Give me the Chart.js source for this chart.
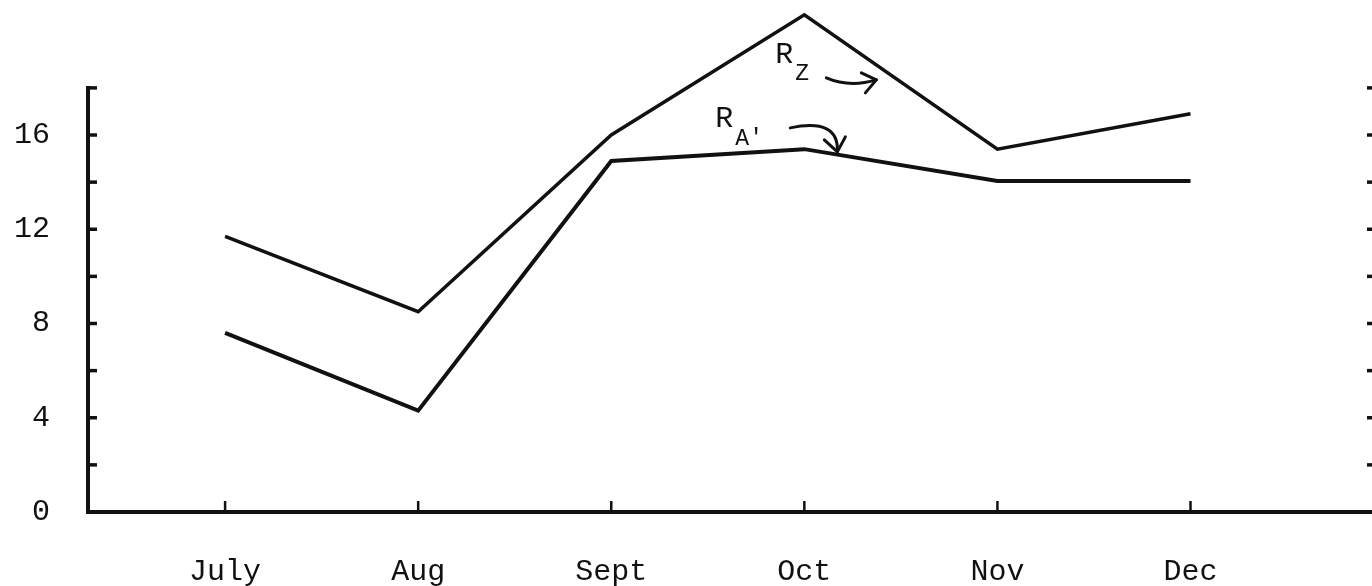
<!DOCTYPE html>
<html>
<head>
<meta charset="utf-8">
<script src="https://cdn.jsdelivr.net/npm/chart.js@4.4.1/dist/chart.umd.min.js"></script>
<style>
  html, body { margin: 0; padding: 0; background: #fff; }
  #wrap { width: 1372px; height: 586px; }
</style>
</head>
<body>
<div id="wrap"><canvas id="chart"></canvas></div>
<script>
var months = ['July', 'Aug', 'Sept', 'Oct', 'Nov', 'Dec'];
var rZ = [11.7, 8.5, 16.0, 21.1, 15.4, 16.9];
var rA = [7.6, 4.3, 14.9, 15.4, 14.05, 14.05];
var yTicks = [0, 2, 4, 6, 8, 10, 12, 14, 16, 18];
var yLabelled = [0, 4, 8, 12, 16];

var ink = '#111';
var mono = '"Liberation Mono", "DejaVu Sans Mono", monospace';

function toPoints(values) {
    return values.map(function (v, i) { return { x: i, y: v }; });
}

// axes, tick marks and the hand labels
var axesPlugin = {
    id: 'axesPlugin',
    afterDatasetsDraw: function (chart) {
        var ctx = chart.ctx;
        var x = chart.scales.x;
        var y = chart.scales.y;
        var area = chart.chartArea;
        var y0 = y.getPixelForValue(0);
        var yTop = y.getPixelForValue(yTicks[yTicks.length - 1]);

        ctx.save();
        ctx.strokeStyle = ink;
        ctx.lineCap = 'butt';

        // y axis + x axis
        ctx.lineWidth = 4;
        ctx.beginPath();
        ctx.moveTo(area.left, yTop - 2);
        ctx.lineTo(area.left, y0);
        ctx.lineTo(area.right, y0);
        ctx.stroke();

        // inward ticks on y
        ctx.lineWidth = 3.5;
        yTicks.forEach(function (v) {
            if (v === 0) return;
            var py = y.getPixelForValue(v);
            ctx.beginPath();
            ctx.moveTo(area.left, py);
            ctx.lineTo(area.left + 9, py);
            ctx.stroke();
            // stubs of the right-hand axis
            ctx.beginPath();
            ctx.moveTo(area.right - 5, py);
            ctx.lineTo(area.right, py);
            ctx.stroke();
        });

        // upward ticks on x
        ctx.lineWidth = 2.5;
        months.forEach(function (m, i) {
            var px = x.getPixelForValue(i);
            ctx.beginPath();
            ctx.moveTo(px, y0);
            ctx.lineTo(px, y0 - 11);
            ctx.stroke();
        });

        // hand labels near Oct
        var ox = x.getPixelForValue(3);
        var oy = yTop;
        ctx.fillStyle = ink;
        ctx.textBaseline = 'alphabetic';
        ctx.textAlign = 'left';

        ctx.font = '30px ' + mono;
        ctx.fillText('R', ox - 29, oy - 25);
        ctx.font = '23px ' + mono;
        ctx.fillText('Z', ox - 9, oy - 8);

        ctx.font = '30px ' + mono;
        ctx.fillText('R', ox - 89, oy + 39);
        ctx.font = '23px ' + mono;
        ctx.fillText("A'", ox - 69, oy + 57);

        ctx.lineWidth = 3;
        ctx.lineCap = 'round';
        ctx.lineJoin = 'round';
        // arrow for R_Z
        ctx.beginPath();
        ctx.moveTo(ox + 22, oy - 10);
        ctx.quadraticCurveTo(ox + 45, oy + 0, ox + 72, oy - 8);
        ctx.stroke();
        ctx.beginPath();
        ctx.moveTo(ox + 57, oy - 15);
        ctx.lineTo(ox + 72, oy - 8);
        ctx.lineTo(ox + 61, oy + 5);
        ctx.stroke();
        // arrow for R_A'
        ctx.beginPath();
        ctx.moveTo(ox - 14, oy + 40);
        ctx.quadraticCurveTo(ox + 35, oy + 30, ox + 33, oy + 64);
        ctx.stroke();
        ctx.beginPath();
        ctx.moveTo(ox + 20, oy + 52);
        ctx.lineTo(ox + 33, oy + 64);
        ctx.lineTo(ox + 41, oy + 49);
        ctx.stroke();

        ctx.restore();
    }
};

var ctx = document.getElementById('chart').getContext('2d');
var chart = new Chart(ctx, {
    type: 'line',
    data: {
        datasets: [
            {
                label: 'R_Z',
                data: toPoints(rZ),
                borderColor: ink,
                borderWidth: 3.5,
                pointRadius: 0,
                fill: false,
                clip: false,
                tension: 0
            },
            {
                label: "R_A'",
                data: toPoints(rA),
                borderColor: ink,
                borderWidth: 4,
                pointRadius: 0,
                fill: false,
                clip: false,
                tension: 0
            }
        ]
    },
    options: {
        responsive: true,
        maintainAspectRatio: false,
        animation: false,
        layout: { padding: 0, autoPadding: false },
        scales: {
            x: {
                type: 'linear',
                min: -0.71,
                max: 5.94,
                border: { display: false },
                grid: { display: false, drawTicks: false },
                afterBuildTicks: function (scale) {
                    scale.ticks = months.map(function (m, i) { return { value: i }; });
                },
                afterFit: function (scale) {
                    scale.height = 74;
                    scale.paddingLeft = 0;
                    scale.paddingRight = 0;
                },
                ticks: {
                    padding: 42,
                    autoSkip: false,
                    maxRotation: 0,
                    color: ink,
                    font: { family: mono, size: 30 },
                    callback: function (v) { return months[v]; }
                }
            },
            y: {
                min: 0,
                max: 21.73,
                border: { display: false },
                grid: { display: false, drawTicks: false },
                afterBuildTicks: function (scale) {
                    scale.ticks = yTicks.map(function (v) { return { value: v }; });
                },
                afterFit: function (scale) {
                    scale.width = 88;
                    scale.paddingTop = 0;
                    scale.paddingBottom = 0;
                },
                ticks: {
                    padding: 38,
                    autoSkip: false,
                    color: ink,
                    font: { family: mono, size: 30 },
                    callback: function (v) {
                        return yLabelled.indexOf(v) >= 0 ? String(v) : '';
                    }
                }
            }
        },
        plugins: {
            legend: { display: false },
            tooltip: { enabled: false }
        }
    },
    plugins: [axesPlugin]
});
</script>
</body>
</html>
